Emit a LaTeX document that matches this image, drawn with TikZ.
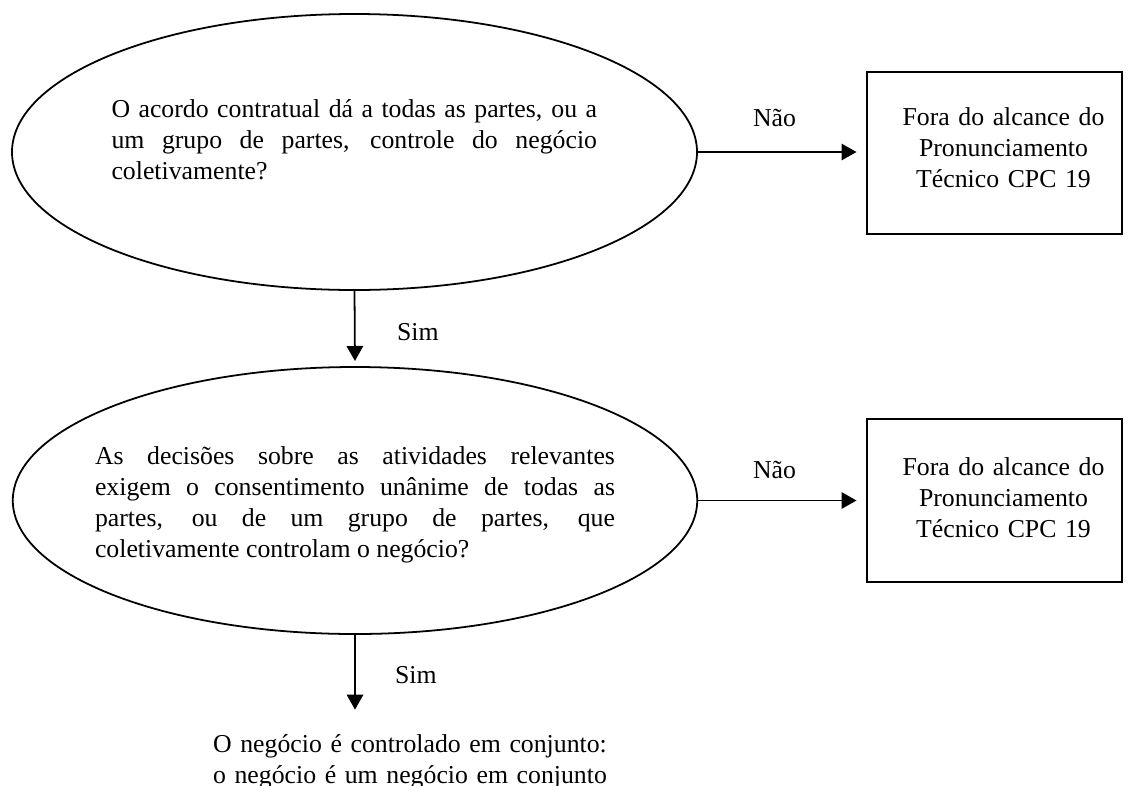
\documentclass[tikz,border=0pt]{standalone}
\usepackage{fontspec}
\setmainfont{Liberation Serif}
\usetikzlibrary{shapes.geometric,arrows.meta}
\begin{document}
\begin{tikzpicture}[x=0.45pt,y=-0.45pt,
  every node/.style={font=\fontsize{11.6}{13.95}\selectfont, inner sep=0pt, outer sep=0pt},
  decision/.style={draw, ellipse, line width=0.8pt},
  outbox/.style={draw, rectangle, line width=0.9pt, minimum width=114.75pt, minimum height=73.1pt},
  qtext/.style={anchor=base west, align=justify},
  ctext/.style={anchor=base, align=center},
  lbl/.style={anchor=base west},
  arr/.style={line width=0.8pt, -{Triangle[length=6.75pt,width=7.4pt]}}]
\useasboundingbox (0,0) rectangle (1128,785);
% decisions
\node[decision, minimum width=308.25pt, minimum height=124.2pt] (e1) at (354.5,152) {};
\node[decision, minimum width=308pt, minimum height=120.15pt] (e2) at (355,500.5) {};
\node[qtext, text width=218.5pt] (t1) at (111.5,117)
  {O acordo contratual dá a todas as partes, ou a\linebreak um grupo de partes, controle do negócio\linebreak coletivamente?};
\node[qtext, text width=234pt] (t2) at (95,464)
  {As decisões sobre as atividades relevantes\linebreak exigem o consentimento unânime de todas as\linebreak partes, ou de um grupo de partes, que\linebreak coletivamente controlam o negócio?};
% outside boxes
\node[outbox] (b1) at (994,153) {};
\node[outbox] (b2) at (994,500.5) {};
\node[ctext, text width=130pt] (bt1) at (1003.5,125) {Fora do alcance do\\Pronunciamento\\Técnico CPC 19};
\node[ctext, text width=130pt] (bt2) at (1003.5,475) {Fora do alcance do\\Pronunciamento\\Técnico CPC 19};
% result
\node[ctext, text width=220pt] (res) at (410,752) {O negócio é controlado em conjunto:\\o negócio é um negócio em conjunto};
% labels
\node[lbl] (n1) at (753,126) {Não};
\node[lbl] (n2) at (753,478) {Não};
\node[lbl] (s1) at (397,340) {Sim};
\node[lbl] (s2) at (395,683) {Sim};
% connectors
\draw[arr, shorten >=4.5pt] (e1.east) -- (e1.east -| b1.west);
\draw[arr, shorten >=4.5pt] (e2.east) -- (e2.east -| b2.west);
\draw[arr, shorten >=2.7pt] (e1.south) -- (e2.north);
\draw[arr, shorten >=11pt] (e2.south) -- (e2.south |- res.north);
\end{tikzpicture}
\end{document}
